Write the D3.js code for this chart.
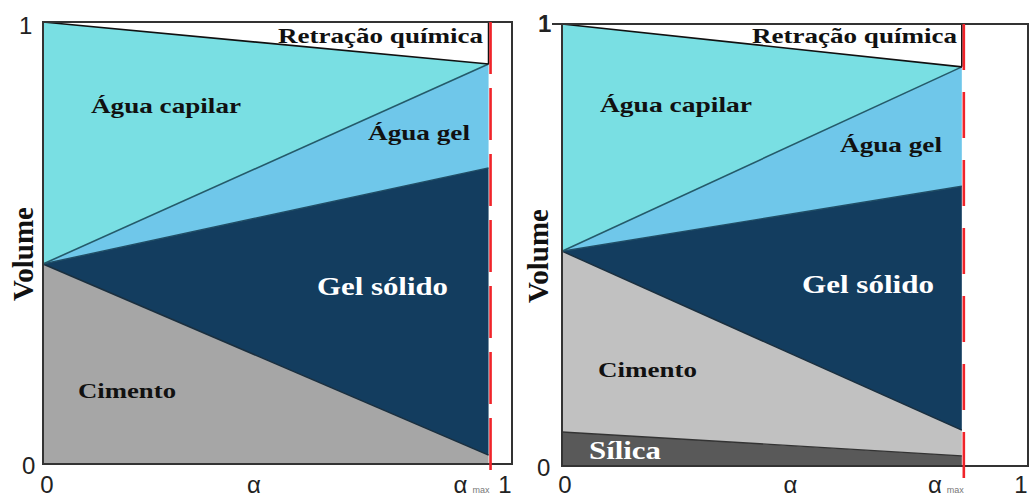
<!DOCTYPE html>
<html>
<head>
<meta charset="utf-8">
<script src="https://cdn.jsdelivr.net/npm/d3@7"></script>
<style>
  html, body { margin: 0; padding: 0; background: #fff; }
  svg { display: block; }
</style>
</head>
<body>
<svg id="chart" width="1030" height="499"></svg>
<script>
// ---------- DATA (values at α = 0 and α = αmax) ----------
const leftAlpha      = [0, 0.95];
const leftCimento    = [0.4525, 0.02];
const leftGelSolido  = [0.4525, 0.67];
const leftAguaGel    = [0.4525, 0.905];
const leftTotal      = [1, 0.905];

const rightAlpha     = [0, 0.858];
const rightSilica    = [0.077, 0.023];
const rightCimento   = [0.486, 0.081];
const rightGelSolido = [0.486, 0.633];
const rightAguaGel   = [0.486, 0.903];
const rightTotal     = [1, 0.903];

const yTickLabels = ["0", "1"];
const xTickLabels = ["0", "α", "α", "1"];
const leftXTickPos  = [0, 0.45, 0.95, 1];
const rightXTickPos = [0, 0.49, 0.858, 1];

const regionNames = ["Sílica", "Cimento", "Gel sólido", "Água gel", "Água capilar", "Retração química"];

// ---------- STYLE / LAYOUT ----------
const colors = {
  "Água capilar": "#79dfe3",
  "Água gel": "#6fc7ea",
  "Gel sólido": "#133d5f",
  "CimentoL": "#a6a6a6",
  "CimentoR": "#c1c1c1",
  "Sílica": "#595959"
};
const serif = "'Liberation Serif', 'Times New Roman', serif";
const sans = "'Liberation Sans', Arial, sans-serif";
const xLabelBaseline = 493;

const svg = d3.select("#chart");

function drawPanel(cfg) {
  const x = d3.scaleLinear().domain([0, 1]).range([cfg.x0, cfg.x1]);
  const y = d3.scaleLinear().domain([0, 1]).range([cfg.yb, cfg.yt]);
  const g = svg.append("g");
  const alpha = cfg.alpha;

  const area = d3.area()
    .x(d => x(d.a))
    .y0(d => y(d.lo))
    .y1(d => y(d.hi));
  const line = d3.line().x(d => x(d.a)).y(d => y(d.v));

  cfg.layers.forEach(L => {
    const pts = alpha.map((a, i) => ({ a, lo: L.lo[i], hi: L.hi[i] }));
    g.append("path").attr("d", area(pts)).attr("fill", L.color).attr("stroke", "none");
  });
  cfg.lines.forEach(Ln => {
    const pts = alpha.map((a, i) => ({ a, v: Ln.v[i] }));
    g.append("path").attr("d", line(pts)).attr("fill", "none")
      .attr("stroke", Ln.color).attr("stroke-width", Ln.w);
  });
  const lastTotal = cfg.total[1];
  g.append("line")
    .attr("x1", x(alpha[1])).attr("x2", x(alpha[1]))
    .attr("y1", y(1)).attr("y2", y(lastTotal))
    .attr("stroke", "#111").attr("stroke-width", 1.6);

  cfg.frame(g, x, y);

  g.append("line")
    .attr("x1", x(alpha[1]) + 2).attr("x2", x(alpha[1]) + 2)
    .attr("y1", y(1)).attr("y2", cfg.yb + 13)
    .attr("stroke", "#f0242a").attr("stroke-width", 2.6)
    .attr("stroke-dasharray", cfg.dash);

  cfg.labels.forEach(lb => {
    g.append("text")
      .attr("x", lb.x).attr("y", lb.y)
      .attr("font-family", serif).attr("font-weight", "bold")
      .attr("font-size", lb.size)
      .attr("fill", lb.fill || "#111")
      .attr("textLength", lb.len).attr("lengthAdjust", "spacingAndGlyphs")
      .text(lb.text);
  });

  g.append("text").attr("x", cfg.y0lab[0]).attr("y", cfg.y0lab[1])
    .attr("font-family", sans).attr("font-size", 24).attr("fill", "#222").text(yTickLabels[0]);
  g.append("text").attr("x", cfg.y1lab[0]).attr("y", cfg.y1lab[1])
    .attr("font-family", sans).attr("font-size", 24).attr("fill", "#222")
    .attr("font-weight", cfg.y1bold ? "bold" : "normal").text(yTickLabels[1]);

  cfg.xticks.forEach((p, i) => {
    g.append("text")
      .attr("x", x(p) + cfg.xOff[i]).attr("y", xLabelBaseline)
      .attr("font-family", sans).attr("font-size", 24).attr("fill", "#222")
      .attr("text-anchor", "middle")
      .text(xTickLabels[i]);
    if (i === 2) {
      g.append("text")
        .attr("x", x(p) + cfg.xOff[i] + 12).attr("y", xLabelBaseline)
        .attr("font-family", sans).attr("font-size", 9).attr("fill", "#777")
        .text("max");
    }
  });

  g.append("text")
    .attr("transform", `translate(${cfg.volX},${cfg.volY}) rotate(-90)`)
    .attr("text-anchor", "middle")
    .attr("font-family", serif).attr("font-weight", "bold")
    .attr("font-size", 29).attr("fill", "#111")
    .text("Volume");
}

// LEFT PANEL
drawPanel({
  x0: 43, x1: 512, yb: 464, yt: 22,
  alpha: leftAlpha,
  total: leftTotal,
  dash: "52,14",
  layers: [
    { lo: [0, 0], hi: leftCimento, color: colors["CimentoL"] },
    { lo: leftCimento, hi: leftGelSolido, color: colors["Gel sólido"] },
    { lo: leftGelSolido, hi: leftAguaGel, color: colors["Água gel"] },
    { lo: leftAguaGel, hi: leftTotal, color: colors["Água capilar"] }
  ],
  lines: [
    { v: leftCimento, color: "#1b2f3e", w: 1.4 },
    { v: leftGelSolido, color: "#1f4d66", w: 1.4 },
    { v: leftAguaGel, color: "#245a6a", w: 1.6 },
    { v: leftTotal, color: "#111", w: 1.6 }
  ],
  frame: (g, x, y) => {
    g.append("rect").attr("x", x(0)).attr("y", y(1))
      .attr("width", x(1) - x(0)).attr("height", y(0) - y(1))
      .attr("fill", "none").attr("stroke", "#333").attr("stroke-width", 2);
  },
  labels: [
    { text: regionNames[5], x: 278, y: 43, size: 22, len: 205 },
    { text: regionNames[4], x: 91, y: 113, size: 21, len: 150 },
    { text: regionNames[3], x: 368, y: 140, size: 22, len: 102 },
    { text: regionNames[2], x: 317, y: 295, size: 25, len: 131, fill: "#fff" },
    { text: regionNames[1], x: 78, y: 398, size: 22, len: 98 }
  ],
  y0lab: [22, 474], y1lab: [19, 34], y1bold: false,
  xticks: leftXTickPos, xOff: [4, 0, -28, -7],
  volX: 33, volY: 254
});

// RIGHT PANEL
drawPanel({
  x0: 562, x1: 1028, yb: 466, yt: 24,
  alpha: rightAlpha,
  total: rightTotal,
  dash: "46,22",
  layers: [
    { lo: [0, 0], hi: rightSilica, color: colors["Sílica"] },
    { lo: rightSilica, hi: rightCimento, color: colors["CimentoR"] },
    { lo: rightCimento, hi: rightGelSolido, color: colors["Gel sólido"] },
    { lo: rightGelSolido, hi: rightAguaGel, color: colors["Água gel"] },
    { lo: rightAguaGel, hi: rightTotal, color: colors["Água capilar"] }
  ],
  lines: [
    { v: rightSilica, color: "#333", w: 1.4 },
    { v: rightCimento, color: "#1b2f3e", w: 1.4 },
    { v: rightGelSolido, color: "#1f4d66", w: 1.4 },
    { v: rightAguaGel, color: "#245a6a", w: 1.6 },
    { v: rightTotal, color: "#111", w: 1.6 }
  ],
  frame: (g, x, y) => {
    g.append("rect").attr("x", x(0)).attr("y", y(1))
      .attr("width", x(1) - x(0)).attr("height", y(0) - y(1))
      .attr("fill", "none").attr("stroke", "#333").attr("stroke-width", 2);
    g.append("line").attr("x1", x(0) - 10).attr("x2", x(0))
      .attr("y1", y(1)).attr("y2", y(1)).attr("stroke", "#333").attr("stroke-width", 2);
  },
  labels: [
    { text: regionNames[5], x: 752, y: 43, size: 22, len: 205 },
    { text: regionNames[4], x: 600, y: 112, size: 21, len: 152 },
    { text: regionNames[3], x: 840, y: 152, size: 22, len: 102 },
    { text: regionNames[2], x: 802, y: 293, size: 25, len: 132, fill: "#fff" },
    { text: regionNames[1], x: 598, y: 377, size: 22, len: 99 },
    { text: regionNames[0], x: 589, y: 459, size: 25, len: 72, fill: "#fff" }
  ],
  y0lab: [537, 476], y1lab: [538, 32], y1bold: true,
  xticks: rightXTickPos, xOff: [3, 0, -27, -7],
  volX: 548, volY: 256
});
</script>
</body>
</html>
